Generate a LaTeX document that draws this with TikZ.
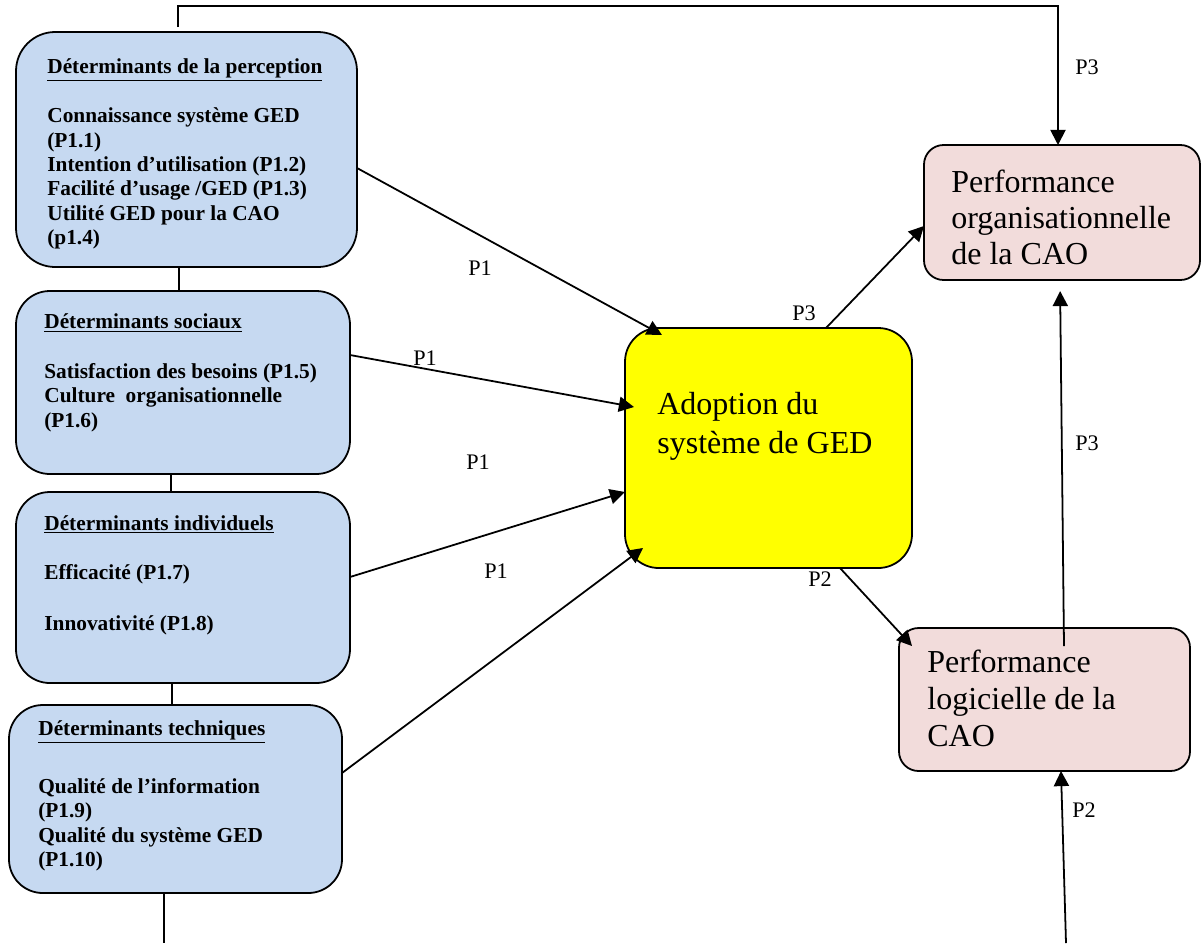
\documentclass[tikz,border=0pt]{standalone}
\usepackage{fontspec}
\setmainfont{Liberation Serif}
\usetikzlibrary{calc,arrows.meta}
\definecolor{boxblue}{HTML}{C6D9F1}
\definecolor{boxpink}{HTML}{F2DCDB}
\definecolor{boxyellow}{HTML}{FFFF00}
\tikzset{
  px/.style={x=0.5625pt,y=-0.5625pt},
  detbox/.style={draw=black,line width=1pt,fill=boxblue,rounded corners=19pt,inner sep=0pt,outer sep=0pt},
  perfbox/.style={draw=black,line width=1pt,fill=boxpink,rounded corners=11pt,inner sep=0pt,outer sep=0pt},
  adoptbox/.style={draw=black,line width=1pt,fill=boxyellow,rounded corners=19pt,inner sep=0pt,outer sep=0pt},
  dettitle/.style={anchor=base west,inner sep=0pt,font=\fontsize{12}{13.7}\selectfont\bfseries},
  dettext/.style={anchor=base west,inner sep=0pt,align=left,font=\fontsize{12}{13.7}\selectfont\bfseries},
  bigtext/.style={anchor=base west,inner sep=0pt,align=left},
  lbl/.style={inner sep=0pt,font=\fontsize{12.5}{14}\selectfont},
  conn/.style={draw=black,line width=1pt},
  arr/.style={conn,-{Triangle[length=8.5pt,width=8.5pt]}},
}
\begin{document}
\begin{tikzpicture}[px]
\useasboundingbox[fill=white] (0,0) rectangle (1202,943);
% boxes
\node[detbox,rounded corners=22pt,minimum width=341*0.5625pt,minimum height=235*0.5625pt] (box1) at (186.5,149.5) {};
\node[detbox,minimum width=334*0.5625pt,minimum height=183*0.5625pt] (box2) at (183,382.5) {};
\node[detbox,minimum width=334*0.5625pt,minimum height=191*0.5625pt] (box3) at (183,587.5) {};
\node[detbox,minimum width=333*0.5625pt,minimum height=188*0.5625pt] (box4) at (175.5,799) {};
\node[adoptbox,minimum width=287*0.5625pt,minimum height=240*0.5625pt] (adopt) at (768.5,448) {};
\node[perfbox,minimum width=276*0.5625pt,minimum height=135*0.5625pt] (porg) at (1062,212.5) {};
\node[perfbox,minimum width=291*0.5625pt,minimum height=143*0.5625pt] (plog) at (1044.5,699.5) {};
% texts (multi-line nodes anchored at the baseline of their last line)
\node[dettitle] (t1) at (47,73) {\underline{Déterminants de la perception}};
\node[dettext] (b1) at (47,244.5) {Connaissance système GED\\(P1.1)\\Intention d’utilisation (P1.2)\\Facilité d’usage /GED (P1.3)\\Utilité GED pour la CAO\\(p1.4)};
\node[dettitle] (t2) at (44,328.3) {\underline{Déterminants sociaux}};
\node[dettext] (b2) at (44,427) {Satisfaction des besoins (P1.5)\\Culture\ \ organisationnelle\\(P1.6)};
\node[dettitle] (t3) at (44,530) {\underline{Déterminants individuels}};
\node[dettext] (b3) at (44,579.3) {Efficacité (P1.7)};
\node[dettext] (b3b) at (44,630) {Innovativité (P1.8)};
\node[dettitle] (t4) at (38,735) {\underline{Déterminants techniques}};
\node[dettext] (b4) at (38,866.4) {Qualité de l’information\\(P1.9)\\Qualité du système GED\\(P1.10)};
\node[bigtext,font=\fontsize{18}{21.4}\selectfont] (ta) at (657,453) {Adoption du\\système de GED};
\node[bigtext,font=\fontsize{18}{20}\selectfont] (to) at (951,264) {Performance\\organisationnelle\\de la CAO};
\node[bigtext,font=\fontsize{18}{20.6}\selectfont] (tl) at (927,746) {Performance\\logicielle de la\\CAO};
% connectors between determinant boxes
\draw[conn] (box1.south -| 179,0) -- (box2.north -| 179,0);
\draw[conn] (box2.south -| 171,0) -- (box3.north -| 171,0);
\draw[conn] (box3.south -| 172,0) -- (box4.north -| 172,0);
\coordinate (bl) at (164,943);
\draw[conn] (box4.south -| bl) -- (bl);
% top connector
\coordinate (topR) at (1058,6);
\draw[arr] ($(box1.north -| 178,0)+(0,-5)$) |- (topR) -- (porg.north -| topR);
% arrows to adoption
\draw[arr] (box1.east |- 0,168) -- ($(adopt.north west)+(37,7)$);
\draw[arr] (box2.east |- 0,355) -- ($(adopt.west |- 0,407)+(9,0)$);
\draw[arr] (box3.east |- 0,577) -- (adopt.west |- 0,492);
\draw[arr] (box4.east |- 0,773) -- ($(adopt.south west)+(18,-20)$);
% arrows to performance
\draw[arr] (adopt.north -| 826,0) -- (porg.west |- 0,226);
\draw[arr] (adopt.south -| 840,0) -- ($(plog.north west)+(13,18)$);
\draw[arr,shorten >=6.2pt] ($(plog.north -| 1064,0)+(0,18)$) -- (porg.south -| 1060,0);
\coordinate (br) at (1066,943);
\draw[arr] (br) -- (plog.south -| 1061,0);
% labels
\node[lbl] (l1) at (480,268) {P1};
\node[lbl] (l2) at (425,358) {P1};
\node[lbl] (l3) at (478,462) {P1};
\node[lbl] (l4) at (496,571) {P1};
\node[lbl] (l5) at (804,313) {P3};
\node[lbl] (l6) at (820,579) {P2};
\node[lbl] (l7) at (1087,67) {P3};
\node[lbl] (l8) at (1087,443) {P3};
\node[lbl] (l9) at (1084,810) {P2};
\end{tikzpicture}
\end{document}
